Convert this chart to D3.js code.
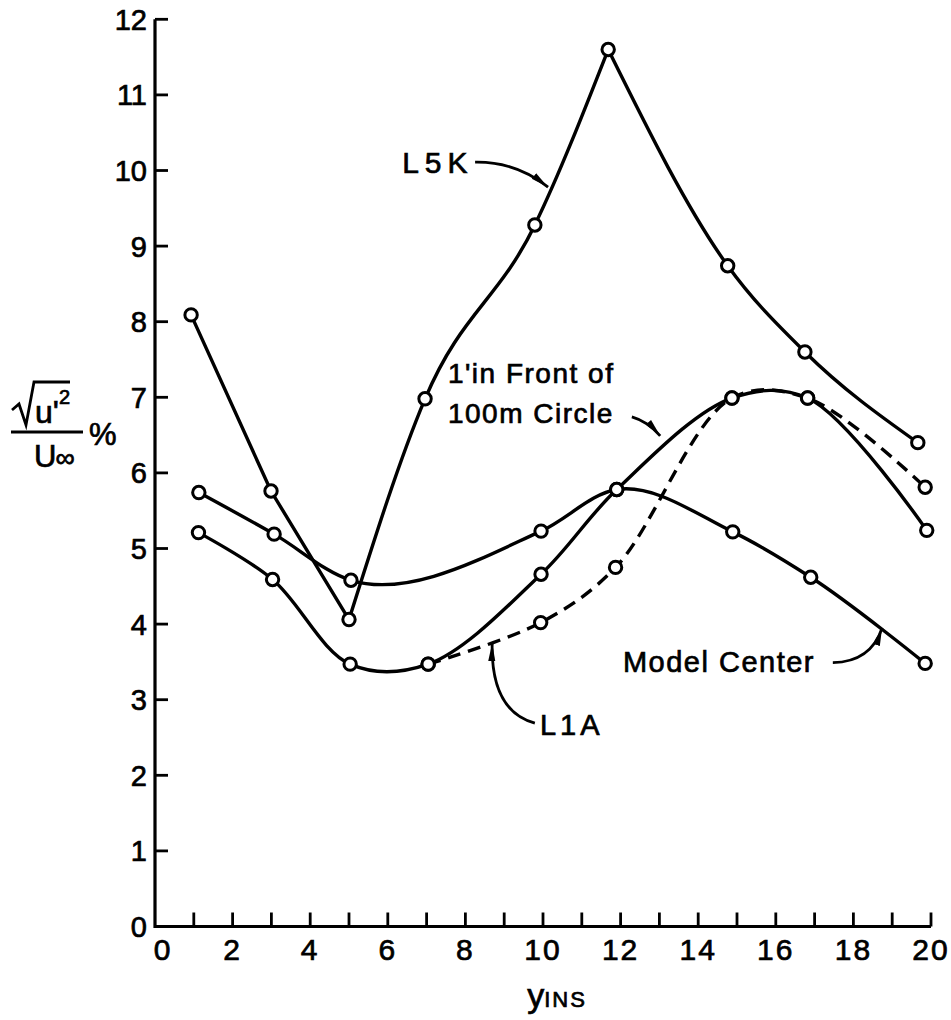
<!DOCTYPE html>
<html>
<head>
<meta charset="UTF-8" />
<title>turbulence</title>
<script src="https://d3js.org/d3.v7.min.js"></script>
<style>
  body { margin: 0; background: #fff; }
  svg { display: block; }
  .axis { fill: none; stroke: #000; stroke-width: 3.2; }
  .tick { stroke: #000; stroke-width: 2.8; }
  .line { fill: none; stroke: #000; stroke-width: 3.4; }
  .dash { stroke-dasharray: 13, 8; }
  .pt { fill: #fff; stroke: #000; stroke-width: 3; }
  text { font-family: "Liberation Sans", Arial, sans-serif; fill: #000; stroke: #000; stroke-width: 0.7px; }
  .ann { fill: none; stroke: #000; stroke-width: 2.8; }
</style>
</head>
<body>
<script type="text/javascript">
// tick labels
var xTicks = [0, 2, 4, 6, 8, 10, 12, 14, 16, 18, 20];
var yTicks = [0, 1, 2, 3, 4, 5, 6, 7, 8, 9, 10, 11, 12];

// L5K
var l5kX = [0.93, 2.99, 5.0, 6.96, 9.79, 11.68, 14.76, 16.75, 19.66];
var l5kY = [8.09, 5.76, 4.06, 6.98, 9.28, 11.60, 8.74, 7.60, 6.40];
// Model Center
var mcX = [1.13, 3.07, 5.05, 9.95, 11.9, 14.89, 16.9, 19.85];
var mcY = [5.74, 5.19, 4.58, 5.23, 5.78, 5.22, 4.62, 3.48];
// 1' in front of 100 m circle
var frontX = [1.12, 3.03, 5.03, 7.04, 9.95, 11.9, 14.87, 16.82, 19.89];
var frontY = [5.21, 4.59, 3.47, 3.47, 4.66, 5.78, 6.99, 6.99, 5.24];
// L1A (dashed)
var liaX = [7.04, 9.94, 11.87, 14.87, 16.82, 19.85];
var liaY = [3.47, 4.02, 4.75, 6.99, 6.99, 5.81];

var width = 951, height = 1020;
var svg = d3.select("body").append("svg").attr("width", width).attr("height", height);

var x = d3.scaleLinear().domain([0, 20]).range([155, 931]);
var y = d3.scaleLinear().domain([0, 12]).range([926.5, 19.3]);

function pts(xs, ys) { return xs.map(function(v, i) { return [v, ys[i]]; }); }

// axes
svg.append("path").attr("class", "axis")
  .attr("d", "M" + x(0) + "," + y(12) + "L" + x(0) + "," + y(0) + "L" + x(20) + "," + y(0));

svg.selectAll(".ytick").data(yTicks).enter().append("line")
  .attr("class", "tick")
  .attr("x1", x(0)).attr("x2", x(0) + 13)
  .attr("y1", function(d) { return y(d); }).attr("y2", function(d) { return y(d); });

svg.selectAll(".xtick").data(d3.range(1, 21)).enter().append("line")
  .attr("class", "tick")
  .attr("x1", function(d) { return x(d); }).attr("x2", function(d) { return x(d); })
  .attr("y1", y(0)).attr("y2", y(0) - 14);

svg.selectAll(".ylab").data(yTicks).enter().append("text")
  .attr("x", x(0) - 8).attr("y", function(d) { return y(d); })
  .attr("dy", "0.36em").attr("text-anchor", "end")
  .style("font-size", "29px")
  .text(function(d) { return d; });

svg.selectAll(".xlab").data(xTicks).enter().append("text")
  .attr("x", function(d) { return x(d) + (d == 0 ? 8 : 0); }).attr("y", y(0) + 33)
  .attr("text-anchor", "middle")
  .style("font-size", "30px").style("letter-spacing", "2px")
  .text(function(d) { return d; });

// axis titles
var xt = svg.append("text").attr("x", x(10) + 14).attr("y", 1007).attr("text-anchor", "middle");
xt.append("tspan").style("font-size", "34px").text("y");
xt.append("tspan").style("font-size", "22px").style("letter-spacing", "2px").text("INS");

var yt = svg.append("g");
yt.append("path").attr("class", "ann").attr("stroke-width", 3.2)
  .attr("d", "M12,410L19,404L26,425L34,382L70,382");
var num = yt.append("text").attr("x", 35).attr("y", 423).style("font-size", "32px");
num.append("tspan").text("u'");
num.append("tspan").attr("dy", -19).style("font-size", "20px").text("2");
yt.append("line").attr("x1", 11).attr("x2", 83).attr("y1", 432).attr("y2", 432)
  .attr("stroke", "#000").attr("stroke-width", 3.2);
var den = yt.append("text").attr("x", 34).attr("y", 467).style("font-size", "31px");
den.append("tspan").text("U");
den.append("tspan").style("font-size", "27px").attr("dx", -1).text("\u221e");
yt.append("text").attr("x", 89).attr("y", 445).style("font-size", "31px").text("%");

// curves
var lineLin = d3.line().x(function(d) { return x(d[0]); }).y(function(d) { return y(d[1]); });
var lineMono = d3.line().curve(d3.curveMonotoneX).x(function(d) { return x(d[0]); }).y(function(d) { return y(d[1]); });
var lineCR = d3.line().curve(d3.curveCatmullRom.alpha(0.5)).x(function(d) { return x(d[0]); }).y(function(d) { return y(d[1]); });
var lineCR1 = d3.line().curve(d3.curveCatmullRom.alpha(1)).x(function(d) { return x(d[0]); }).y(function(d) { return y(d[1]); });

var l5k = pts(l5kX, l5kY);
svg.append("path").attr("class", "line").attr("d", lineLin(l5k.slice(0, 3)));
svg.append("path").attr("class", "line").attr("d", lineMono(l5k.slice(2, 6)));
svg.append("path").attr("class", "line").attr("d", lineMono(l5k.slice(5)));

var mc = pts(mcX, mcY);
svg.append("path").attr("class", "line").attr("d", lineCR1(mc));

var front = pts(frontX, frontY);
svg.append("path").attr("class", "line").attr("d", lineCR(front));

var lia = pts(liaX, liaY);
svg.append("path").attr("class", "line dash").attr("d", lineCR(lia));

// points
[l5k, mc, front, lia].forEach(function(s) {
  svg.append("g").selectAll("circle").data(s).enter().append("circle")
    .attr("class", "pt").attr("r", 6.2)
    .attr("cx", function(d) { return x(d[0]); })
    .attr("cy", function(d) { return y(d[1]); });
});

// annotations
svg.append("defs").append("marker")
  .attr("id", "arr").attr("viewBox", "0 0 18 10").attr("refX", 18).attr("refY", 5)
  .attr("markerWidth", 18).attr("markerHeight", 10).attr("markerUnits", "userSpaceOnUse")
  .attr("orient", "auto")
  .append("path").attr("d", "M0,1.5L18,5L0,8.5Z").attr("fill", "#000");

function annLabel(tx, ty, lines, size, sp) {
  var t = svg.append("text").attr("x", x(tx)).attr("y", y(ty))
    .style("font-size", size + "px").style("letter-spacing", sp + "px");
  lines.forEach(function(s, i) {
    t.append("tspan").attr("x", x(tx)).attr("dy", i == 0 ? 0 : 40).text(s);
  });
}
function annArrow(p0, c, p1) {
  svg.append("path").attr("class", "ann").attr("marker-end", "url(#arr)")
    .attr("d", "M" + x(p0[0]) + "," + y(p0[1]) + "Q" + x(c[0]) + "," + y(c[1]) + " " + x(p1[0]) + "," + y(p1[1]));
}

annLabel(6.37, 9.97, ["L5K"], 30, 6);
annArrow([8.25, 10.11], [9.3, 10.12], [10.13, 9.78]);

annLabel(7.55, 7.19, ["1'in  Front of", "100m  Circle"], 28, 1.5);
annArrow([12.29, 6.74], [12.7, 6.68], [13.02, 6.49]);

annLabel(12.06, 3.37, ["Model  Center"], 29, 1.5);
annArrow([17.47, 3.49], [18.45, 3.5], [18.74, 3.95]);

annLabel(9.92, 2.53, ["L1A"], 29, 4);
annArrow([9.79, 2.69], [8.65, 2.85], [8.69, 3.75]);
</script>
</body>
</html>
